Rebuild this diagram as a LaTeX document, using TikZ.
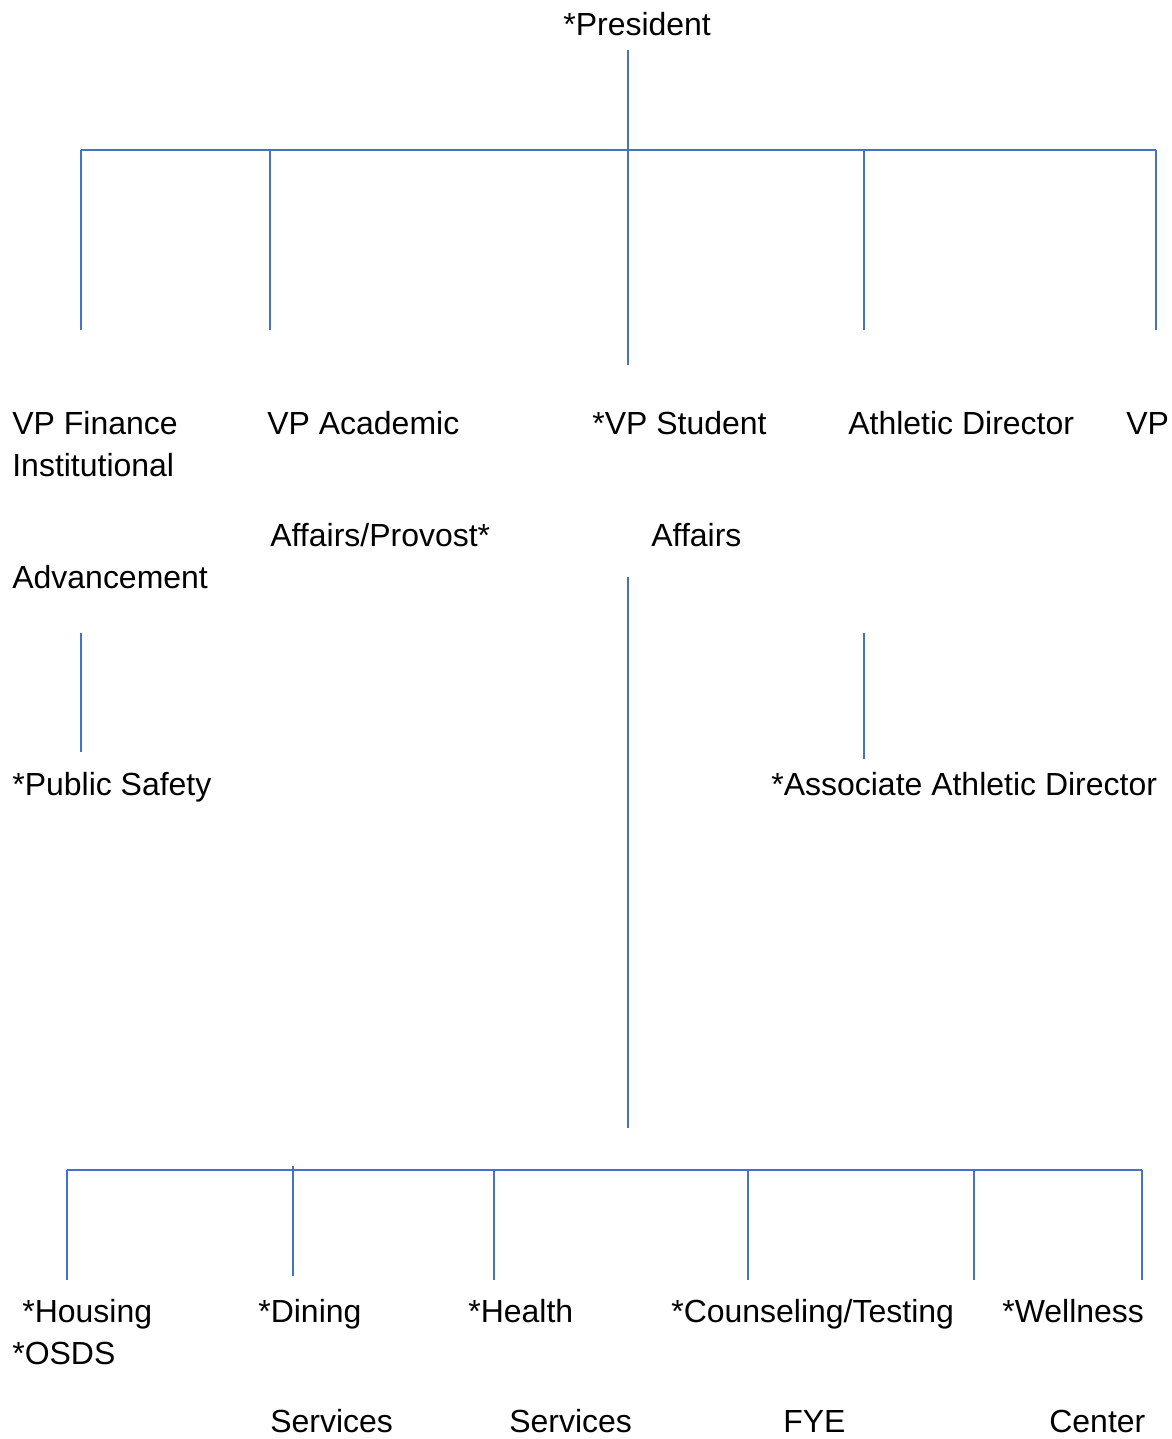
\documentclass[tikz,border=0pt]{standalone}
\usepackage{fontspec}
\setmainfont{Liberation Sans}
\definecolor{LineBlue}{HTML}{4472C4}
\usepackage{xcolor}
\usepackage{tikz}

\tikzset{
  lbl/.style={anchor=base west,inner sep=0pt},
  link/.style={draw=LineBlue,line width=0.85pt},
  bar/.style={draw=LineBlue,line width=1.1pt}
}

\begin{document}
\begin{tikzpicture}[x=0.02cm,y=-0.02cm,font=\fontsize{18.2}{21}\selectfont]
  \useasboundingbox (0,0) rectangle (1171,1439);

  % President
  \node[lbl] (pres) at (563,36) {*President};
  \coordinate (presbot) at (628,50);
  \coordinate (topbar) at (628,150);
  \draw[link] (presbot) -- (topbar);

  % Top bar and drops
  \coordinate (tbL) at (81,150);
  \coordinate (tbR) at (1156,150);
  \draw[bar] (tbL) -- (tbR);
  \foreach \x/\len/\nm in {81/330/fin, 270/330/acad, 628/365/stud, 864/330/ath, 1156/330/vp}{
    \coordinate (\nm top) at (\x,150);
    \coordinate (\nm bot) at (\x,\len);
    \draw[link] (\nm top) -- (\nm bot);
  }

  % Second level
  \node[lbl] (fin1) at (12,434) {VP Finance};
  \node[lbl] (fin2) at (12,476) {Institutional};
  \node[lbl] (fin3) at (12,588) {Advancement};
  \node[lbl] (acad1) at (267,434) {VP Academic};
  \node[lbl] (acad2) at (270,546) {Affairs/Provost*};
  \node[lbl] (stud1) at (592,434) {*VP Student};
  \node[lbl] (stud2) at (651,546) {Affairs};
  \node[lbl] (ath1) at (848,434) {Athletic Director};
  \node[lbl] (vp1) at (1126,434) {VP};

  % Public Safety
  \coordinate (psTop) at (81,633);
  \coordinate (psBot) at (81,752);
  \draw[link] (psTop) -- (psBot);
  \node[lbl] (safety) at (12,795) {*Public Safety};

  % Associate Athletic Director
  \coordinate (aadTop) at (864,633);
  \coordinate (aadBot) at (864,759);
  \draw[link] (aadTop) -- (aadBot);
  \node[lbl] (assoc) at (771,795) {*Associate Athletic Director};

  % Student Affairs trunk
  \coordinate (saTop) at (628,577);
  \coordinate (saBot) at (628,1128);
  \draw[link] (saTop) -- (saBot);

  % Bottom bar and drops
  \coordinate (bbL) at (67,1170);
  \coordinate (bbR) at (1142,1170);
  \draw[bar] (bbL) -- (bbR);
  \foreach \x/\y/\len/\nm in {67/1170/1280/hous, 293/1166/1276/din, 494/1170/1280/hlth, 748/1170/1280/couns, 974/1170/1280/well, 1142/1170/1280/end}{
    \coordinate (\nm top) at (\x,\y);
    \coordinate (\nm bot) at (\x,\len);
    \draw[link] (\nm top) -- (\nm bot);
  }

  % Third level
  \node[lbl] (hous1) at (22,1322) {*Housing};
  \node[lbl] (osds) at (12,1364) {*OSDS};
  \node[lbl] (din1) at (258,1322) {*Dining};
  \node[lbl] (din2) at (270,1432) {Services};
  \node[lbl] (hlth1) at (468,1322) {*Health};
  \node[lbl] (hlth2) at (509,1432) {Services};
  \node[lbl] (couns1) at (671,1322) {*Counseling/Testing};
  \node[lbl] (fye) at (783,1432) {FYE};
  \node[lbl] (well1) at (1002,1322) {*Wellness};
  \node[lbl] (well2) at (1049,1432) {Center};
\end{tikzpicture}
\end{document}
